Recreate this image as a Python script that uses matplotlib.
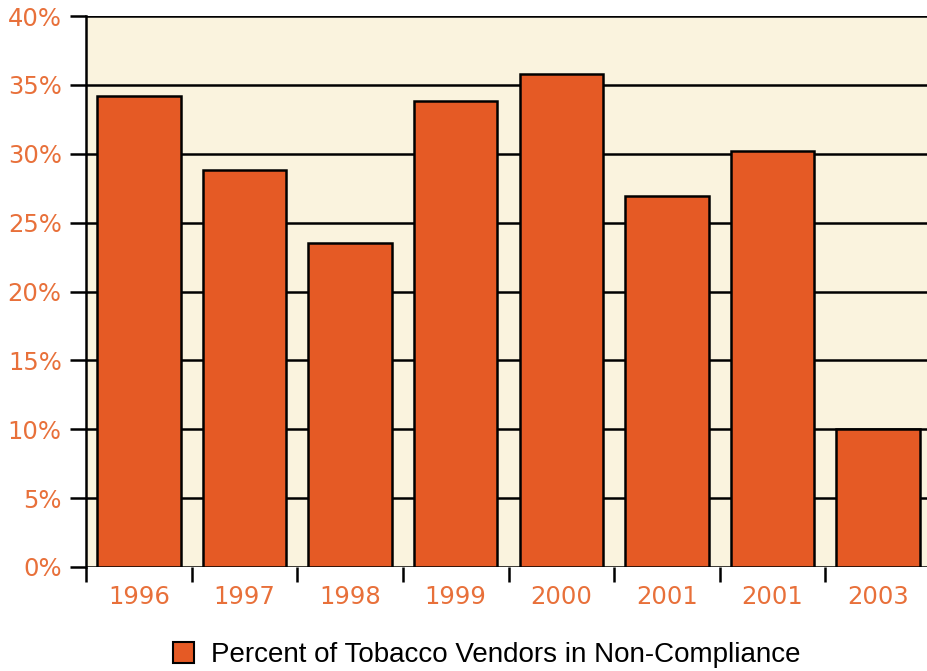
import matplotlib.pyplot as plt
from matplotlib.patches import Patch
from matplotlib.ticker import FixedLocator, PercentFormatter

years = ["1996", "1997", "1998", "1999", "2000", "2001", "2001", "2003"]
non_compliance = [34.2, 28.8, 23.5, 33.8, 35.8, 26.9, 30.2, 10.0]
y_ticks = [0, 5, 10, 15, 20, 25, 30, 35, 40]
legend_label = "Percent of Tobacco Vendors in Non-Compliance"

BAR_COLOR = "#E55A25"
LABEL_COLOR = "#E8703A"
PANEL_COLOR = "#FAF3DE"

fig = plt.figure(figsize=(9.27, 6.71), dpi=100)
# the plotting area runs slightly past the right edge of the figure
ax = fig.add_axes([86 / 927, 104 / 671, 845 / 927, 551 / 671])
ax.set_facecolor(PANEL_COLOR)

x = range(len(years))
ax.bar(x, non_compliance, width=0.79, color=BAR_COLOR,
       edgecolor="black", linewidth=1.8, zorder=2)

ax.set_xlim(-0.5, len(years) - 0.5)
ax.set_ylim(0, 40)

# y axis: black rules across the panel with short stubs to the left
ax.set_yticks(y_ticks)
ax.yaxis.set_major_formatter(PercentFormatter(decimals=0))
ax.grid(axis="y", color="black", linewidth=1.8, zorder=1)
ax.set_axisbelow(True)
ax.tick_params(axis="y", direction="out", length=11.5, width=1.8,
               color="black", pad=6, labelsize=17.5, labelcolor=LABEL_COLOR)

# x axis: labels centred on the bars, tick marks between categories
ax.set_xticks(list(x))
ax.set_xticklabels(years)
ax.xaxis.set_minor_locator(FixedLocator([i - 0.5 for i in range(len(years) + 1)]))
ax.tick_params(axis="x", which="major", length=0, pad=13,
               labelsize=17.5, labelcolor=LABEL_COLOR)
ax.tick_params(axis="x", which="minor", direction="out", length=11,
               width=1.8, color="black")

for side in ["top", "right", "bottom"]:
    ax.spines[side].set_visible(False)
ax.spines["left"].set_linewidth(1.8)
ax.spines["left"].set_zorder(3)

handle = Patch(facecolor=BAR_COLOR, edgecolor="black", linewidth=1.5)
fig.legend(handles=[handle], labels=[legend_label], loc="center",
           bbox_to_anchor=(0.525, 0.0235), frameon=False,
           handlelength=0.75, handleheight=0.75, handletextpad=0.6,
           prop={"family": "Liberation Sans", "size": 20})

fig.savefig("out.png", dpi=100)
